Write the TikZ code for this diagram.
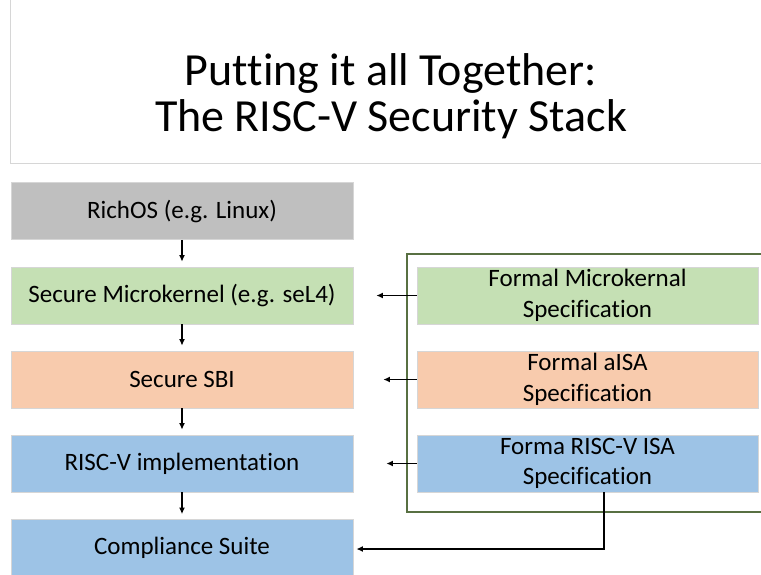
\documentclass[tikz,border=0pt]{standalone}
\usepackage{fontspec}
\setmainfont{Carlito}[Ligatures=NoCommon]
\usetikzlibrary{arrows.meta}
\definecolor{osgray}{HTML}{BFBFBF}
\definecolor{kgreen}{HTML}{C5E0B4}
\definecolor{sorange}{HTML}{F8CBAD}
\definecolor{hblue}{HTML}{9DC3E6}
\definecolor{edgegray}{HTML}{D6D6D6}
\definecolor{framegreen}{RGB}{88,112,66}
\tikzset{
  layer/.style={draw=edgegray, line width=0.8pt, minimum height=57pt, inner sep=0pt,
    align=center, font=\fontsize{25}{30.5}\selectfont},
  leftlayer/.style={layer, minimum width=342pt},
  rightlayer/.style={layer, minimum width=341pt},
  arr/.style={-{Latex[length=6.5pt,width=6pt]}, line width=1.4pt, black},
}
\begin{document}
\begin{tikzpicture}[x=1pt,y=-1pt]
\useasboundingbox (0,0) rectangle (761,574);

% title panel
\draw[edgegray, line width=0.8pt] (10,0) -- (10,163) -- (761,163);
\node (title) at (391,96) [align=center, font=\fontsize{46}{46}\selectfont]
  {Putting it all Together:\\The RISC-V Security Stack};

% frame around the formal specifications
\draw[framegreen, line width=1.2pt] (775,254) -- (407,254) -- (407,512) -- (775,512);

% the stack
\node[leftlayer, fill=osgray]  (rich) at (182,211)   {RichOS (e.g. Linux)};
\node[leftlayer, fill=kgreen]  (mk)   at (182,295.5) {Secure Microkernel (e.g. seL4)};
\node[leftlayer, fill=sorange] (sbi)  at (182,379.5) {Secure SBI};
\node[leftlayer, fill=hblue]   (impl) at (182,463.5) {RISC-V implementation};
\node[leftlayer, fill=hblue]   (cs)   at (182,548)   {Compliance Suite};

% formal specifications
\node[rightlayer, fill=kgreen]  (fmk)  at (587.5,295.5) {Formal Microkernal\\Specification};
\node[rightlayer, fill=sorange] (fsbi) at (587.5,379.5) {Formal aISA\\Specification};
\node[rightlayer, fill=hblue]   (fisa) at (587.5,463.5) {Forma RISC-V ISA\\Specification};

% downward arrows in the stack
\draw[arr, shorten >=5pt] (rich.south) -- (mk.north);
\draw[arr, shorten >=5pt] (mk.south) -- (sbi.north);
\draw[arr, shorten >=5pt] (sbi.south) -- (impl.north);
\draw[arr, shorten >=5pt] (impl.south) -- (cs.north);

% specification arrows
\draw[arr, shorten >=23pt] (fmk.west) -- (mk.east);
\draw[arr, shorten >=30pt] (fsbi.west) -- (sbi.east);
\draw[arr, shorten >=33pt] (fisa.west) -- (impl.east);

% ISA specification to compliance suite
\coordinate (bend) at (604,549);
\draw[arr, shorten >=3pt] (fisa.south -| bend) -- (bend) -- (cs.east |- bend);
\end{tikzpicture}
\end{document}
